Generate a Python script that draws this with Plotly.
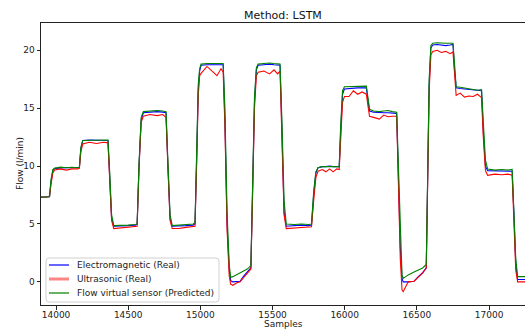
import plotly.graph_objects as go

samples = [
    13896, 13930, 13955, 13965, 13978, 13990,
    14030, 14070, 14110, 14150, 14162, 14172, 14185,
    14230, 14280, 14330, 14360, 14372, 14385, 14400,
    14450, 14500, 14550, 14562, 14575, 14590, 14605,
    14650, 14700, 14740, 14762, 14775, 14790, 14805,
    14850, 14900, 14950, 14963, 14975, 14985, 14995, 15005,
    15046, 15080, 15115, 15143, 15158, 15170, 15185, 15200, 15210,
    15225, 15250, 15275, 15300, 15325, 15350, 15362, 15375, 15388, 15400,
    15440, 15480, 15510, 15535, 15552, 15565, 15580, 15595,
    15650, 15700, 15750, 15770, 15785, 15800, 15815,
    15845, 15870, 15895, 15920, 15945, 15962, 15972, 15985, 15998,
    16030, 16060, 16090, 16120, 16150, 16160, 16172,
    16200, 16240, 16270, 16300, 16330, 16360, 16372, 16385, 16397,
    16405, 16440, 16480, 16510, 16540, 16565, 16575, 16585, 16597, 16610,
    16640, 16670, 16700, 16730, 16750, 16760, 16772,
    16800, 16830, 16860, 16890, 16920, 16948, 16960, 16975, 16990,
    17040, 17090, 17130, 17160, 17172, 17185, 17198, 17250,
]

electromagnetic = [
    7.30, 7.30, 7.35, 8.6, 9.6, 9.80,
    9.85, 9.85, 9.85, 9.85, 9.9, 11.5, 12.2,
    12.25, 12.25, 12.25, 12.2, 9.0, 5.5, 4.8,
    4.8, 4.85, 4.9, 5.0, 10.0, 14.0, 14.6,
    14.65, 14.7, 14.65, 14.6, 10.0, 5.5, 4.8,
    4.8, 4.85, 4.9, 5.0, 11.0, 16.5, 18.2, 18.7,
    18.75, 18.75, 18.7, 18.75, 18.75, 14.0, 5.0, 1.0, 0.1,
    0.0, 0.0, 0.05, 0.5, 0.9, 1.2, 8.0, 15.5, 18.3, 18.7,
    18.75, 18.8, 18.75, 18.7, 18.7, 13.0, 6.0, 4.8,
    4.85, 4.9, 4.85, 4.9, 7.5, 9.4, 9.85,
    9.95, 9.95, 10.0, 9.95, 9.95, 9.95, 13.0, 16.2, 16.65,
    16.7, 16.75, 16.75, 16.75, 16.75, 15.8, 14.75,
    14.65, 14.6, 14.6, 14.6, 14.6, 14.55, 9.0, 3.0, 0.3,
    0.0, 0.0, 0.05, 0.45, 0.8, 1.2, 9.0, 17.0, 20.2, 20.45,
    20.5, 20.45, 20.4, 20.45, 20.5, 18.5, 16.75,
    16.7, 16.65, 16.6, 16.55, 16.5, 16.5, 13.0, 10.0, 9.6,
    9.6, 9.6, 9.6, 9.55, 6.0, 1.5, 0.2, 0.2,
]

ultrasonic = [
    7.30, 7.35, 7.35, 8.4, 9.4, 9.65,
    9.75, 9.65, 9.75, 9.75, 9.8, 11.2, 11.9,
    12.05, 11.95, 12.05, 12.0, 8.8, 5.3, 4.6,
    4.65, 4.7, 4.75, 4.8, 9.8, 13.8, 14.3,
    14.45, 14.35, 14.45, 14.2, 9.8, 5.3, 4.6,
    4.6, 4.7, 4.75, 4.8, 10.5, 16.0, 17.8, 18.0,
    18.6, 18.2, 17.8, 18.4, 18.1, 13.5, 4.5, 0.5, -0.2,
    -0.3, -0.1, 0.0, 0.4, 0.8, 1.1, 7.5, 15.0, 17.8, 18.1,
    18.2, 17.95, 18.3, 17.95, 18.2, 12.5, 5.8, 4.6,
    4.65, 4.7, 4.7, 4.75, 7.0, 9.0, 9.55,
    9.7, 9.5, 9.75, 9.5, 9.75, 9.7, 12.5, 15.5, 16.0,
    16.0, 16.5, 16.2, 16.4, 16.2, 15.3, 14.3,
    14.2, 14.05, 14.4, 14.25, 14.3, 14.3, 8.5, 2.0, -0.7,
    -0.85, 0.0, 0.05, 0.4, 0.75, 1.2, 8.5, 16.5, 19.6, 19.9,
    20.0, 19.8, 19.9, 19.7, 19.85, 18.0, 16.1,
    16.3, 15.95, 16.05, 16.0, 16.2, 15.9, 12.5, 9.6, 9.2,
    9.3, 9.25, 9.3, 9.2, 5.5, 1.0, 0.0, 0.0,
]

virtual_sensor = [
    7.35, 7.30, 7.40, 8.8, 9.7, 9.80,
    9.90, 9.85, 9.90, 9.85, 9.9, 11.6, 12.2,
    12.2, 12.25, 12.25, 12.25, 9.5, 5.8, 4.85,
    4.85, 4.9, 4.95, 5.0, 10.2, 14.2, 14.7,
    14.75, 14.8, 14.75, 14.7, 10.5, 5.8, 4.85,
    4.9, 4.95, 5.0, 5.1, 11.5, 17.0, 18.4, 18.8,
    18.85, 18.85, 18.85, 18.85, 18.85, 15.0, 6.0, 1.5, 0.4,
    0.45, 0.6, 0.8, 0.95, 1.1, 1.4, 9.0, 16.0, 18.5, 18.8,
    18.85, 18.9, 18.85, 18.8, 18.8, 14.0, 7.0, 5.0,
    4.95, 5.0, 4.95, 5.0, 7.8, 9.5, 9.85,
    9.95, 9.95, 10.0, 9.95, 10.0, 9.95, 13.5, 16.5, 16.85,
    16.85, 16.9, 16.9, 16.9, 16.9, 16.0, 14.9,
    14.75, 14.7, 14.75, 14.8, 14.7, 14.65, 10.0, 4.0, 0.6,
    0.3, 0.6, 0.85, 1.0, 1.2, 1.5, 10.0, 17.5, 20.4, 20.6,
    20.65, 20.6, 20.6, 20.6, 20.6, 19.0, 16.85,
    16.8, 16.75, 16.65, 16.6, 16.55, 16.6, 14.0, 10.5, 9.75,
    9.65, 9.7, 9.65, 9.7, 6.5, 2.0, 0.45, 0.45,
]

x_ticks = [14000, 14500, 15000, 15500, 16000, 16500, 17000]
y_ticks = [0, 5, 10, 15, 20]

series_names = ["Electromagnetic (Real)", "Ultrasonic (Real)",
                "Flow virtual sensor (Predicted)"]

FONT = "DejaVu Sans"
W, H = 525, 329
ML, MR, MT, MB = 41, 0, 23, 24
PW, PH = W - ML - MR, H - MT - MB


def px(x):
    return (x - ML) / PW


def py(y):
    return (H - MB - y) / PH


line_colors = ["#0000ff", "#ff0000", "#008000"]
legend_colors = ["#0000ff", "rgba(255,110,110,0.85)", "#008000"]
legend_widths = [1.2, 3, 1.2]

fig = go.Figure()
for name, ys, col in zip(series_names,
                         [electromagnetic, ultrasonic, virtual_sensor],
                         line_colors):
    fig.add_trace(go.Scatter(x=samples, y=ys, mode="lines",
                             line=dict(color=col, width=1.1),
                             name=name, showlegend=False))

# legend box (drawn like matplotlib's rounded legend frame)
x0, x1, y0, y1 = px(46), px(219), py(302), py(258)
rx, ry = 3 / PW, 3 / PH
path = (f"M {x0+rx},{y0} L {x1-rx},{y0} Q {x1},{y0} {x1},{y0+ry} "
        f"L {x1},{y1-ry} Q {x1},{y1} {x1-rx},{y1} L {x0+rx},{y1} "
        f"Q {x0},{y1} {x0},{y1-ry} L {x0},{y0+ry} Q {x0},{y0} {x0+rx},{y0} Z")
shapes = [dict(type="path", path=path, xref="paper", yref="paper",
               fillcolor="rgba(255,255,255,0.85)",
               line=dict(color="#d0d0d0", width=1), layer="above")]
annotations = []
for i, (name, col, wd) in enumerate(zip(series_names, legend_colors, legend_widths)):
    yc = py(265 + 14 * i)
    shapes.append(dict(type="line", xref="paper", yref="paper",
                       x0=px(49), x1=px(69), y0=yc, y1=yc,
                       line=dict(color=col, width=wd), layer="above"))
    annotations.append(dict(text=name, xref="paper", yref="paper",
                            x=px(75), y=yc, xanchor="left", yanchor="middle",
                            showarrow=False,
                            font=dict(size=9, color="#222222", family=FONT)))

# axis titles, placed like the reference
annotations.append(dict(text="Flow (l/min)", xref="paper", yref="paper",
                        x=px(20), y=0.5, xanchor="center", yanchor="middle",
                        textangle=-90, showarrow=False,
                        font=dict(size=9, color="#222222", family=FONT)))
annotations.append(dict(text="Samples", xref="paper", yref="paper",
                        x=0.5, y=py(323.5), xanchor="center", yanchor="middle",
                        showarrow=False,
                        font=dict(size=9, color="#222222", family=FONT)))

fig.update_layout(
    width=W, height=H,
    margin=dict(l=ML, r=MR, t=MT, b=MB, autoexpand=False),
    paper_bgcolor="white", plot_bgcolor="white",
    font=dict(family=FONT, size=9, color="#222222"),
    title=dict(text="Method: LSTM", x=0.539, xanchor="center",
               y=1 - 15.5 / H, yanchor="middle", yref="container",
               font=dict(size=11, color="#111111")),
    showlegend=False,
    shapes=shapes,
    annotations=annotations,
)
fig.update_xaxes(range=[13896, 17249], tickvals=x_ticks,
                 ticktext=[str(v) for v in x_ticks],
                 showgrid=False, zeroline=False, automargin=False,
                 showline=True, linecolor="#222222", linewidth=1, mirror=True,
                 ticks="outside", ticklen=3.5, tickcolor="#222222",
                 ticklabelstandoff=-2)
fig.update_yaxes(range=[-2.0, 22.35], tickvals=y_ticks,
                 showgrid=False, zeroline=False, automargin=False,
                 showline=True, linecolor="#222222", linewidth=1, mirror=False,
                 ticks="outside", ticklen=3.5, tickcolor="#222222")

fig.write_html("out.html", config={"displayModeBar": False},
               post_script="document.body.style.margin='0';document.body.style.overflow='hidden';")
